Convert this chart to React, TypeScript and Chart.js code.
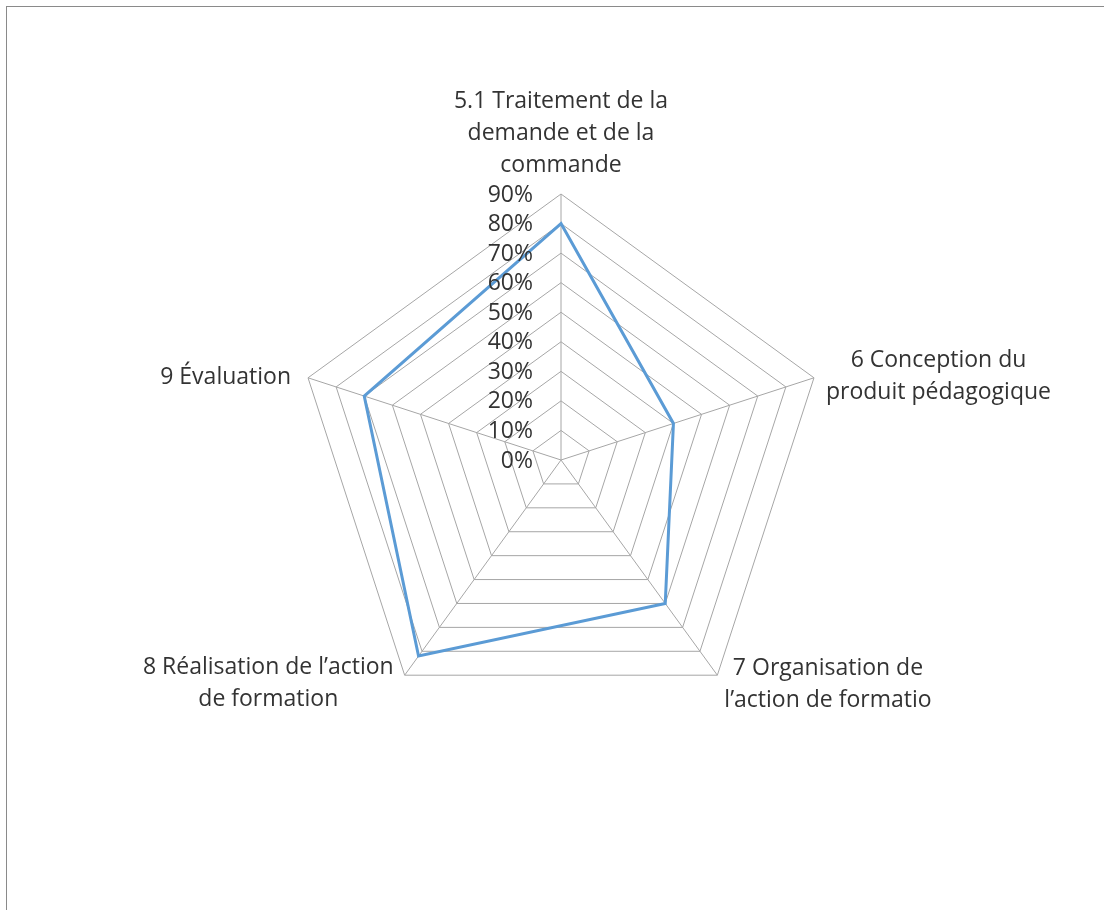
import React, { useEffect, useRef } from "react";
import { Chart, registerables } from "chart.js";

Chart.register(...registerables);

// ---- data ----
const categories: string[][] = [
  ["5.1 Traitement de la", "demande et de la", "commande"],
  ["6 Conception du", "produit pédagogique"],
  ["7 Organisation de", "l’action de formatio"],
  ["8 Réalisation de l’action", "de formation"],
  ["9 Évaluation"],
];
const seriesValues: number[] = [0.8, 0.4, 0.6, 0.82, 0.7];
const tickValues: number[] = [0, 0.1, 0.2, 0.3, 0.4, 0.5, 0.6, 0.7, 0.8, 0.9];
const tickLabels: string[] = ["0%", "10%", "20%", "30%", "40%", "50%", "60%", "70%", "80%", "90%"];

const FONT_FAMILY = "'Open Sans', Lato, sans-serif";
const FONT_SIZE = 23;
const TEXT_COLOR = "#333333";
const LINE_H = 32;

const excelLabels = {
  id: "excelLabels",
  afterDraw(chart: any) {
    const scale = chart.scales.r;
    const ctx = chart.ctx as CanvasRenderingContext2D;
    ctx.save();
    ctx.font = `${FONT_SIZE}px ${FONT_FAMILY}`;
    ctx.fillStyle = TEXT_COLOR;

    // tick labels, right aligned to the left of the vertical axis
    ctx.textAlign = "right";
    ctx.textBaseline = "middle";
    tickValues.forEach((v, i) => {
      const d = scale.getDistanceFromCenterForValue(v);
      ctx.fillText(tickLabels[i], scale.xCenter - 28, scale.yCenter - d + 1);
    });

    // category labels
    ctx.textBaseline = "alphabetic";
    ctx.textAlign = "center";
    const n = categories.length;
    for (let i = 0; i < n; i++) {
      const lines = categories[i];
      const p = scale.getPointPosition(i, scale.drawingArea);
      const deg = (((i * 360) / n) % 360 + 360) % 360;
      const widths = lines.map((l) => ctx.measureText(l).width);
      const w = Math.max(...widths);
      let cx = p.x;
      let firstBase = p.y;
      if (deg === 0) {
        cx = p.x;
        firstBase = p.y - 22 - (lines.length - 1) * LINE_H;
      } else if (deg < 90) {
        cx = p.x + 12 + w / 2;
        firstBase = p.y - 11;
      } else if (deg < 180) {
        cx = p.x + 7 + w / 2;
        firstBase = p.y;
      } else if (deg < 270) {
        cx = p.x - 11 - w / 2;
        firstBase = p.y - 1;
      } else {
        cx = p.x - 17 - w / 2;
        firstBase = p.y + 6;
      }
      lines.forEach((l, k) => ctx.fillText(l, cx, firstBase + k * LINE_H));
    }
    ctx.restore();
  },
};

export default function App() {
  const ref = useRef<HTMLCanvasElement | null>(null);
  useEffect(() => {
    if (!ref.current) return;
    const chart = new Chart(ref.current, {
      type: "radar",
      data: {
        labels: categories,
        datasets: [
          {
            label: "Série1",
            data: seriesValues,
            borderColor: "#5B9BD5",
            borderWidth: 3,
            pointRadius: 0,
            pointHoverRadius: 0,
            fill: false,
            tension: 0,
          },
        ],
      },
      options: {
        animation: false,
        responsive: false,
        devicePixelRatio: 1,
        layout: { padding: { left: 295, right: 277, top: 194, bottom: 184 } },
        plugins: { legend: { display: false }, tooltip: { enabled: false } },
        scales: {
          r: {
            min: 0,
            max: 0.9,
            startAngle: 0,
            ticks: { display: false, stepSize: 0.1 },
            grid: { color: "#a6a6a6", lineWidth: 1, circular: false },
            angleLines: { color: "#a6a6a6", lineWidth: 1 },
            pointLabels: { display: false },
          },
        },
      },
      plugins: [excelLabels],
    });
    return () => chart.destroy();
  }, []);

  return (
    <>
      <div
        style={{
          position: "fixed",
          left: 0,
          top: 0,
          width: 1104,
          height: 910,
          background: "#ffffff",
        }}
      >
        <canvas ref={ref} width={1104} height={910} style={{ display: "block", width: 1104, height: 910 }} />
      </div>
      <div
        style={{
          position: "fixed",
          left: 6,
          top: 6,
          right: 0,
          bottom: 0,
          borderLeft: "1px solid #8a8a8a",
          borderTop: "1px solid #8a8a8a",
          pointerEvents: "none",
        }}
      />
    </>
  );
}
